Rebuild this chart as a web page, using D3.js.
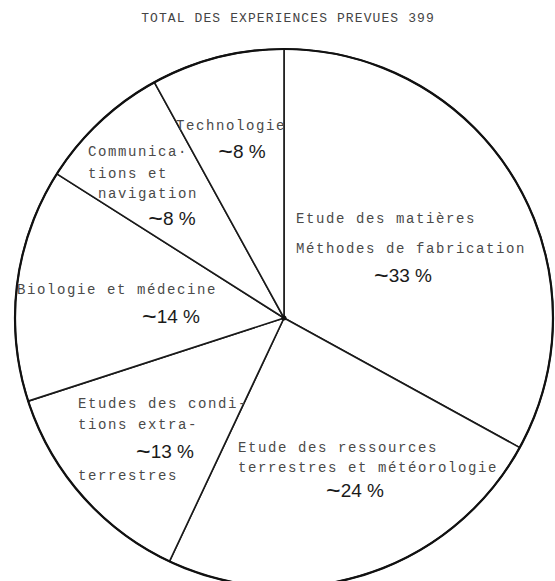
<!DOCTYPE html>
<html>
<head>
<meta charset="utf-8">
<script src="https://cdn.jsdelivr.net/npm/d3@7"></script>
<style>
  body { margin: 0; background: #fff; }
  .lbl { font-family: "Liberation Mono", "DejaVu Sans Mono", monospace; font-size: 14px; letter-spacing: 1.6px; fill: #4a4a4a; }
  .pct { font-family: "Liberation Sans Narrow", "Liberation Sans", Arial, sans-serif; font-size: 19px; fill: #1a1a1a; }
  .title { font-family: "Liberation Mono", "DejaVu Sans Mono", monospace; font-size: 13px; letter-spacing: 1.1px; fill: #444; }
</style>
</head>
<body>
<script>
var width = 555, height = 581;
var cx = 284, cy = 318, radius = 269;

// slices clockwise from 12 o'clock
var categories = ['Etude des matières / Méthodes de fabrication',
                  'Etude des ressources terrestres et météorologie',
                  'Etudes des conditions extra-terrestres',
                  'Biologie et médecine',
                  'Communications et navigation',
                  'Technologie'];
var shares = [33, 24, 13, 14, 8, 8];
var labelLines = [
  ['Etude des matières', 'Méthodes de fabrication'],
  ['Etude des ressources', 'terrestres et météorologie'],
  ['Etudes des condi-', 'tions extra-', 'terrestres'],
  ['Biologie et médecine'],
  ['Communica·', 'tions et', ' navigation'],
  ['Technologie']
];
var title = 'TOTAL DES EXPERIENCES PREVUES 399';

// label layout, offsets from the pie centre
var layout = [
  {x: 12, lines: [-95, -65], px: 119, py: -36},
  {x: -46, lines: [134, 154], px: 71, py: 179},
  {x: -206, lines: [90, 111, 162], px: -119, py: 140},
  {x: -267, lines: [-24], px: -113, py: 5},
  {x: -196, lines: [-162, -140, -120], px: -112, py: -93},
  {x: -108, lines: [-188], px: -42, py: -160}
];

var svg = d3.select('body').append('svg')
            .attr('width', width)
            .attr('height', height);

svg.append('text')
   .attr('class', 'title')
   .attr('x', 288).attr('y', 22)
   .attr('text-anchor', 'middle')
   .text(title);

var pie = d3.pie().sort(null).value(d => d);
var arc = d3.arc().innerRadius(0).outerRadius(radius);
var arcs = pie(shares);

var g = svg.append('g').attr('transform', `translate(${cx},${cy})`);

g.selectAll('path.slice').data(arcs)
 .enter().append('path')
   .attr('class', 'slice')
   .attr('d', arc)
   .attr('fill', '#fff')
   .attr('stroke', '#1a1a1a')
   .attr('stroke-width', 1.6)
   .attr('stroke-linejoin', 'round');

// heavier outer rim
g.append('circle')
 .attr('r', radius)
 .attr('fill', 'none')
 .attr('stroke', '#111')
 .attr('stroke-width', 2.2);

g.append('circle').attr('r', 2.5).attr('fill', '#111');

arcs.forEach(function(a, i) {
  var l = layout[i];
  labelLines[i].forEach(function(t, j) {
    g.append('text')
     .attr('class', 'lbl')
     .attr('x', l.x)
     .attr('y', l.lines[j])
     .style('white-space', 'pre')
     .text(t);
  });
  var p = g.append('text')
   .attr('class', 'pct')
   .attr('x', l.px)
   .attr('y', l.py)
   .attr('text-anchor', 'middle');
  p.append('tspan').style('font-size', '25px').attr('dy', 2).text('~');
  p.append('tspan').attr('dy', -2).text(a.data + ' %');
});
</script>
</body>
</html>
